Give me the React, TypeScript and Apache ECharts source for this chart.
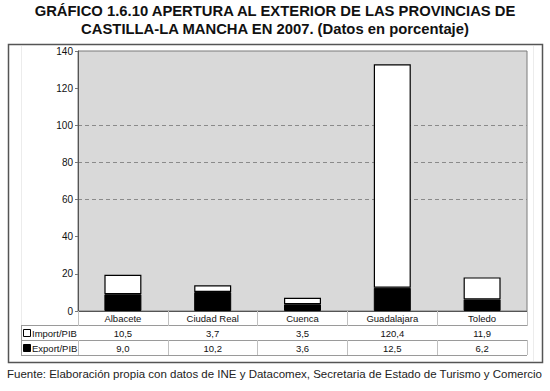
import React, { useEffect, useRef } from "react";
import * as echarts from "echarts";

const categories = ["Albacete", "Ciudad Real", "Cuenca", "Guadalajara", "Toledo"];
const importPib = [10.5, 3.7, 3.5, 120.4, 11.9];
const exportPib = [9.0, 10.2, 3.6, 12.5, 6.2];
const yTicks = { min: 0, max: 140, interval: 20 };
const gridValues = [60, 80, 100];
const titleText = "GRÁFICO 1.6.10 APERTURA AL EXTERIOR DE LAS PROVINCIAS DE\nCASTILLA-LA MANCHA EN 2007. (Datos en porcentaje)";
const sourceText = "Fuente: Elaboración propia con datos de INE y Datacomex, Secretaria de Estado de Turismo y Comercio";

const FONT = '"Liberation Sans", Arial, Helvetica, sans-serif';
const fmt = (v: number) => v.toFixed(1).replace(".", ",");

export default function App() {
  const ref = useRef<HTMLDivElement>(null);
  useEffect(() => {
    if (!ref.current) return;
    const chart = echarts.init(ref.current, undefined, { renderer: "svg" });
    const W = 550;
    const gLeft = 78, gRight = 527, gTop = 51, gBottom = 311;
    const rowH = 15;
    const r1 = gBottom + 14, r2 = r1 + rowH, r3 = r2 + rowH;
    const tickCount = (yTicks.max - yTicks.min) / yTicks.interval + 1;
    const splitColors: string[] = [];
    for (let i = 0; i < tickCount; i++) {
      const v = yTicks.min + i * yTicks.interval;
      splitColors.push(gridValues.includes(v) ? "#8a8a8a" : "rgba(0,0,0,0)");
    }
    const tableLine = "#9a9a9a";
    const labelFs = 9.5;
    const baseAxis = {
      type: "category" as const,
      gridIndex: 0,
      position: "bottom" as const,
      boundaryGap: true,
      axisLine: { show: false },
      axisTick: { show: true, interval: 0, length: rowH, lineStyle: { color: "#c0c0c0", width: 1 } },
      splitLine: { show: false },
    };
    chart.setOption({
      animation: false,
      backgroundColor: "#ffffff",
      textStyle: { fontFamily: FONT },
      title: {
        text: titleText,
        left: "center",
        top: -3,
        textStyle: { fontFamily: FONT, fontSize: 14.8, fontWeight: "bold", color: "#111", lineHeight: 18 },
      },
      grid: {
        left: gLeft,
        right: W - gRight,
        top: gTop,
        bottom: 391 - gBottom,
        show: true,
        backgroundColor: "#d9d9d9",
        borderColor: "#7a7a7a",
        borderWidth: 1,
      },
      xAxis: [
        {
          ...baseAxis,
          data: categories,
          axisLine: { show: true, onZero: false, lineStyle: { color: "#555", width: 1 } },
          axisTick: { show: true, interval: 0, length: 14, lineStyle: { color: "#c0c0c0", width: 1 } },
          axisLabel: { interval: 0, fontSize: labelFs, color: "#111", margin: 2, fontFamily: FONT },
        },
        {
          ...baseAxis,
          offset: 14,
          data: importPib.map(fmt),
          axisLabel: { interval: 0, fontSize: labelFs, color: "#111", margin: 3, fontFamily: FONT },
        },
        {
          ...baseAxis,
          offset: 14 + rowH,
          data: exportPib.map(fmt),
          axisLabel: { interval: 0, fontSize: labelFs, color: "#111", margin: 3, fontFamily: FONT },
        },
      ],
      yAxis: {
        type: "value",
        min: yTicks.min,
        max: yTicks.max,
        interval: yTicks.interval,
        axisLine: { show: true, lineStyle: { color: "#555", width: 1 } },
        axisTick: { show: true, length: 3, lineStyle: { color: "#777" } },
        axisLabel: { fontSize: 10, color: "#111", margin: 5, fontFamily: FONT },
        splitLine: { show: true, lineStyle: { color: splitColors, type: [4, 3], width: 1 } },
      },
      series: [
        {
          name: "Export/PIB",
          type: "bar",
          stack: "total",
          xAxisIndex: 0,
          data: exportPib,
          barWidth: 37,
          itemStyle: { color: "#000", borderColor: "#000", borderWidth: 1 },
        },
        {
          name: "Import/PIB",
          type: "bar",
          stack: "total",
          xAxisIndex: 0,
          data: importPib,
          barWidth: 37,
          itemStyle: { color: "#fff", borderColor: "#000", borderWidth: 1.2 },
        },
      ],
      graphic: [
        { type: "rect", shape: { x: 8.5, y: 44.5, width: 534, height: 318 }, style: { fill: "none", stroke: "#555", lineWidth: 1.5 }, z: 0 },
        { type: "line", shape: { x1: 21.5, y1: 46, x2: 21.5, y2: r1 }, style: { stroke: "#ececec", lineWidth: 1 } },
        { type: "line", shape: { x1: 533.5, y1: 46, x2: 533.5, y2: 361 }, style: { stroke: "#ececec", lineWidth: 1 } },
        { type: "line", shape: { x1: 21.5, y1: r1 + 0.5, x2: gRight, y2: r1 + 0.5 }, style: { stroke: tableLine, lineWidth: 1 } },
        { type: "line", shape: { x1: 21.5, y1: r2 + 0.5, x2: gRight, y2: r2 + 0.5 }, style: { stroke: tableLine, lineWidth: 1 } },
        { type: "line", shape: { x1: 21.5, y1: r3 + 0.5, x2: gRight, y2: r3 + 0.5 }, style: { stroke: tableLine, lineWidth: 1 } },
        { type: "line", shape: { x1: 21.5, y1: r1, x2: 21.5, y2: r3 + 1 }, style: { stroke: tableLine, lineWidth: 1 } },
        { type: "rect", shape: { x: 23.5, y: r1 + 4.5, width: 7, height: 7 }, style: { fill: "#fff", stroke: "#000", lineWidth: 1 } },
        { type: "text", x: 32, y: r1 + 8, style: { text: "Import/PIB", font: `${labelFs}px ${FONT}`, fill: "#111", textVerticalAlign: "middle" } },
        { type: "rect", shape: { x: 23.5, y: r2 + 4.5, width: 7, height: 7 }, style: { fill: "#000", stroke: "#000", lineWidth: 1 } },
        { type: "text", x: 32, y: r2 + 8, style: { text: "Export/PIB", font: `${labelFs}px ${FONT}`, fill: "#111", textVerticalAlign: "middle" } },
        { type: "text", x: 7, y: 374, style: { text: sourceText, font: `11.5px ${FONT}`, fill: "#222", textVerticalAlign: "middle" } },
      ],
    });
    return () => chart.dispose();
  }, []);
  return <div ref={ref} style={{ position: "fixed", left: 0, top: 0, width: 550, height: 391 }} />;
}
